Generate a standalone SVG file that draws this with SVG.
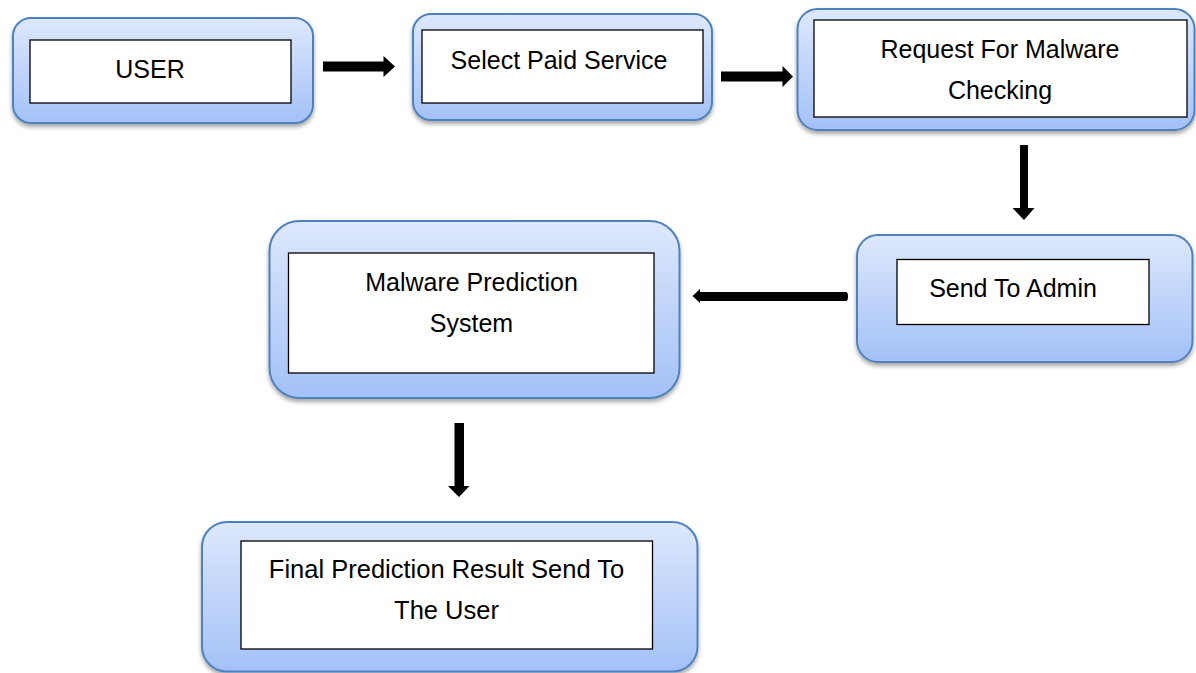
<svg xmlns="http://www.w3.org/2000/svg" width="1196" height="673" viewBox="0 0 1196 673">
<style>
.outer{fill:url(#g);stroke:#4f81bd;stroke-width:2;filter:url(#sh)}
.inner{fill:#fff;stroke:#000;stroke-width:1.3}
.t{font-family:"Liberation Sans",Arial,sans-serif;font-size:25px;fill:#000;text-anchor:middle}
.arr{fill:#000}
</style>
<defs>
<linearGradient id="g" x1="0" y1="0" x2="0" y2="1">
<stop offset="0" stop-color="#dde8fc"/>
<stop offset="1" stop-color="#a3c1f7"/>
</linearGradient>
<filter id="sh" x="-10%" y="-10%" width="120%" height="130%">
<feDropShadow dx="0" dy="3" stdDeviation="2" flood-color="#000" flood-opacity="0.35"/>
</filter>
</defs>
<g id="connectors">
<path class="arr" d="M323,61.5 H383.5 V56 L395,66.5 L383.5,77 V71.5 H323 Z"/>
<path class="arr" d="M721,71.5 H782.5 V66 L793,76.5 L782.5,87 V81.5 H721 Z"/>
<path class="arr" d="M1020,145 H1028 V208 H1034.5 L1024,220 L1012.5,208 H1020 Z"/>
<path class="arr" d="M846,292 Q848,292 848,296.5 Q848,301 846,301 H700 V303 L692.5,296 L700,289 V292 Z"/>
<path class="arr" d="M454.5,423 H464 V486 H469.5 L459,497 L448,486 H454.5 Z"/>
</g>
<g id="user">
<rect class="outer" x="13" y="18" width="300" height="105" rx="18"/>
<rect class="inner" x="30" y="40" width="261" height="63"/>
<text class="t" x="150" y="78">USER</text>
</g>
<g id="select">
<rect class="outer" x="413" y="14" width="299" height="106" rx="18"/>
<rect class="inner" x="422" y="30" width="281" height="73"/>
<text class="t" x="559" y="69">Select Paid Service</text>
</g>
<g id="request">
<rect class="outer" x="797.5" y="9" width="397" height="121" rx="20"/>
<rect class="inner" x="814" y="20" width="373" height="97"/>
<text class="t" x="1000" y="58">Request For Malware</text>
<text class="t" x="1000" y="99">Checking</text>
</g>
<g id="admin">
<rect class="outer" x="857" y="235" width="335.5" height="127" rx="21"/>
<rect class="inner" x="897" y="259.5" width="252" height="65"/>
<text class="t" x="1013" y="297">Send To Admin</text>
</g>
<g id="malware">
<rect class="outer" x="269.5" y="221" width="410" height="177" rx="30"/>
<rect class="inner" x="288.5" y="253" width="365.5" height="120"/>
<text class="t" x="471.5" y="291">Malware Prediction</text>
<text class="t" x="471.5" y="332">System</text>
</g>
<g id="final">
<rect class="outer" x="202" y="522" width="495.5" height="149.5" rx="25"/>
<rect class="inner" x="241" y="541" width="411.5" height="108"/>
<text class="t" x="446.5" y="578" style="font-size:25.5px">Final Prediction Result Send To</text>
<text class="t" x="446.5" y="619" style="font-size:25.5px">The User</text>
</g>
</svg>
